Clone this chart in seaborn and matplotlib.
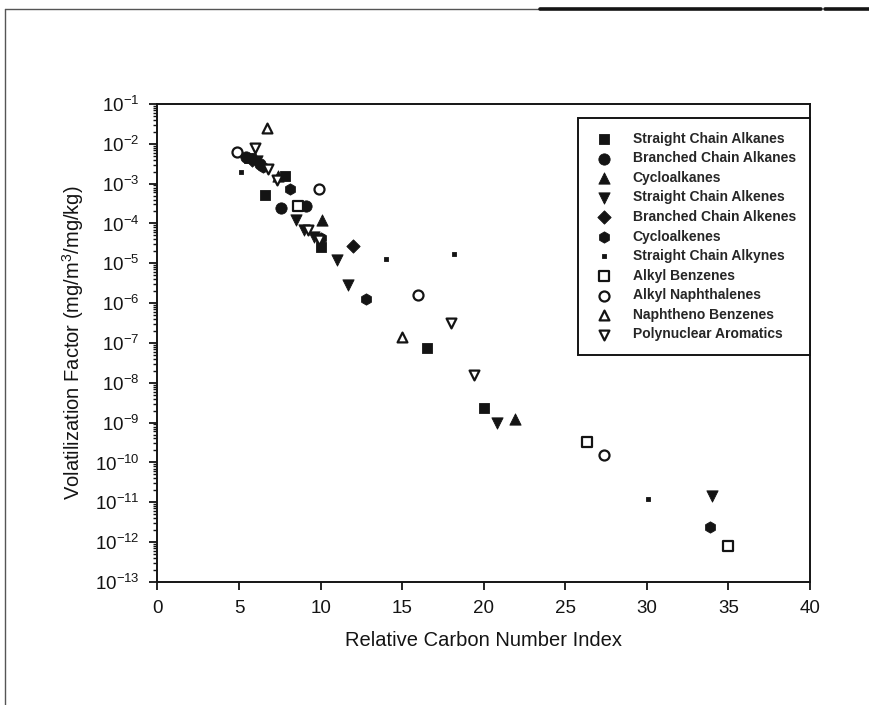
import numpy as np
import pandas as pd
import matplotlib
matplotlib.use("Agg")
import matplotlib.pyplot as plt
from matplotlib.lines import Line2D
from matplotlib.ticker import LogLocator, NullFormatter
import seaborn as sns

# ---------------- data ----------------
categories = [
    "Straight Chain Alkanes", "Branched Chain Alkanes", "Cycloalkanes",
    "Straight Chain Alkenes", "Branched Chain Alkenes", "Cycloalkenes",
    "Straight Chain Alkynes", "Alkyl Benzenes", "Alkyl Naphthalenes",
    "Naphtheno Benzenes", "Polynuclear Aromatics",
]
legend_labels = [
    "Straight Chain Alkanes", "Branched Chain Alkanes", "Cycloalkanes",
    "Straight Chain Alkenes", "Branched Chain Alkenes", "Cycloalkenes",
    "Straight Chain Alkynes", "Alkyl Benzenes", "Alkyl Naphthalenes",
    "Naphtheno Benzenes", "Polynuclear Aromatics",
]

sc_alkanes_x = [5.6, 6.6, 7.8, 10.0, 16.5, 20.0]
sc_alkanes_y = [4.5e-3, 5.3e-4, 1.6e-3, 2.6e-5, 7.4e-8, 2.4e-9]

br_alkanes_x = [5.4, 6.3, 7.6, 9.1]
br_alkanes_y = [4.8e-3, 3.2e-3, 2.5e-4, 2.7e-4]

cycloalkanes_x = [6.0, 7.4, 10.1, 21.9]
cycloalkanes_y = [4.4e-3, 1.6e-3, 1.2e-4, 1.26e-9]

sc_alkenes_x = [6.1, 8.5, 9.0, 9.6, 11.0, 11.7, 20.8, 34.0]
sc_alkenes_y = [3.6e-3, 1.2e-4, 7e-5, 4.5e-5, 1.2e-5, 2.8e-6, 9.6e-10, 1.45e-11]

br_alkenes_x = [5.8, 12.0]
br_alkenes_y = [4.0e-3, 2.7e-5]

cycloalkenes_x = [6.5, 8.1, 10.0, 12.8, 33.9]
cycloalkenes_y = [2.6e-3, 7.2e-4, 4.2e-5, 1.3e-6, 2.4e-12]

sc_alkynes_x = [5.1, 14.0, 18.2, 30.1]
sc_alkynes_y = [2.0e-3, 1.3e-5, 1.7e-5, 1.2e-11]

alkyl_benz_x = [8.6, 26.3, 35.0]
alkyl_benz_y = [2.7e-4, 3.2e-10, 7.9e-13]

alkyl_naph_x = [4.9, 9.9, 16.0, 27.4]
alkyl_naph_y = [6.2e-3, 7.3e-4, 1.6e-6, 1.5e-10]

naph_benz_x = [6.7, 15.0]
naph_benz_y = [2.45e-2, 1.4e-7]

poly_arom_x = [6.0, 6.8, 7.3, 9.2, 9.9, 18.0, 19.4]
poly_arom_y = [7.8e-3, 2.3e-3, 1.2e-3, 6.8e-5, 3.8e-5, 3.1e-7, 1.6e-8]

x_ticks = [0, 5, 10, 15, 20, 25, 30, 35, 40]

series_x = [sc_alkanes_x, br_alkanes_x, cycloalkanes_x, sc_alkenes_x, br_alkenes_x,
            cycloalkenes_x, sc_alkynes_x, alkyl_benz_x, alkyl_naph_x, naph_benz_x, poly_arom_x]
series_y = [sc_alkanes_y, br_alkanes_y, cycloalkanes_y, sc_alkenes_y, br_alkenes_y,
            cycloalkenes_y, sc_alkynes_y, alkyl_benz_y, alkyl_naph_y, naph_benz_y, poly_arom_y]

rows = []
for cat, xs, ys in zip(categories, series_x, series_y):
    for xv, yv in zip(xs, ys):
        rows.append({"category": cat, "rcn": xv, "vf": yv})
df = pd.DataFrame(rows)

# ---------------- style ----------------
sns.set_style("ticks")
plt.rcParams["font.family"] = ["Liberation Sans", "DejaVu Sans"]
plt.rcParams["mathtext.fontset"] = "custom"
plt.rcParams["mathtext.rm"] = "Liberation Sans"
plt.rcParams["mathtext.it"] = "Liberation Sans:italic"
plt.rcParams["mathtext.bf"] = "Liberation Sans:bold"
plt.rcParams["mathtext.sf"] = "Liberation Sans"

INK = "#141414"
# marker, filled, size
styles = [
    ("s", True, 55), ("o", True, 66), ("^", True, 66), ("v", True, 66),
    ("D", True, 46), ("h", True, 66), ("s", True, 7), ("s", False, 42),
    ("o", False, 52), ("^", False, 50), ("v", False, 50),
]

fig = plt.figure(figsize=(8.69, 7.05), dpi=100)
ax = fig.add_axes([0.1812, 0.1745, 0.7509, 0.678])

for cat, lab, (mk, filled, sz) in zip(categories, legend_labels, styles):
    sub = df[df["category"] == cat]
    if filled:
        sns.scatterplot(data=sub, x="rcn", y="vf", ax=ax, marker=mk, s=sz,
                        color=INK, edgecolor=INK, linewidth=0.6, label=lab, zorder=3)
    else:
        sns.scatterplot(data=sub, x="rcn", y="vf", ax=ax, marker=mk, s=sz,
                        color=INK, facecolor="white", edgecolor=INK, linewidth=1.6,
                        label=lab, zorder=4)

ax.set_yscale("log")
ax.set_xlim(0, 40)
ax.set_ylim(1e-13, 1e-1)
ax.set_xticks(x_ticks)
ax.set_xticklabels([str(t) for t in x_ticks])
ax.yaxis.set_major_locator(LogLocator(base=10, numticks=30))
ax.yaxis.set_minor_locator(LogLocator(base=10, subs=np.arange(2, 10), numticks=30))
ax.yaxis.set_minor_formatter(NullFormatter())

for sp in ax.spines.values():
    sp.set_visible(True)
    sp.set_color(INK)
    sp.set_linewidth(1.4)

ax.tick_params(axis="both", which="major", direction="out", length=6, width=1.3,
               colors=INK, labelsize=13.5, pad=7)
ax.tick_params(axis="y", which="minor", direction="out", length=3, width=1.0, colors=INK)
ax.tick_params(axis="x", which="minor", bottom=False)

ax.set_xlabel("Relative Carbon Number Index", fontsize=14.5, color=INK, labelpad=10)
ax.set_ylabel("Volatilization Factor (mg/m$^3$/mg/kg)", fontsize=14.5, color=INK, labelpad=6)

leg = ax.legend(loc="upper right", bbox_to_anchor=(1.0, 0.971), borderaxespad=0,
                frameon=True, fancybox=False, framealpha=1, edgecolor=INK,
                prop={"size": 10, "weight": "bold"}, borderpad=1.0,
                handlelength=1.75, handletextpad=1.2, labelspacing=0.4)
leg.get_frame().set_linewidth(1.4)

# outer scanned frame
fig.add_artist(Line2D([5 / 869, 5 / 869], [0, 1 - 9 / 705], transform=fig.transFigure,
                      color="#555555", linewidth=1.0))
fig.add_artist(Line2D([5 / 869, 540 / 869], [1 - 9 / 705, 1 - 9 / 705], transform=fig.transFigure,
                      color="#555555", linewidth=1.0))
fig.add_artist(Line2D([540 / 869, 821 / 869], [1 - 9 / 705, 1 - 9 / 705], transform=fig.transFigure,
                      color=INK, linewidth=2.6))
fig.add_artist(Line2D([825 / 869, 1.0], [1 - 9 / 705, 1 - 9 / 705], transform=fig.transFigure,
                      color=INK, linewidth=2.6))

fig.savefig("out.png", dpi=100)
